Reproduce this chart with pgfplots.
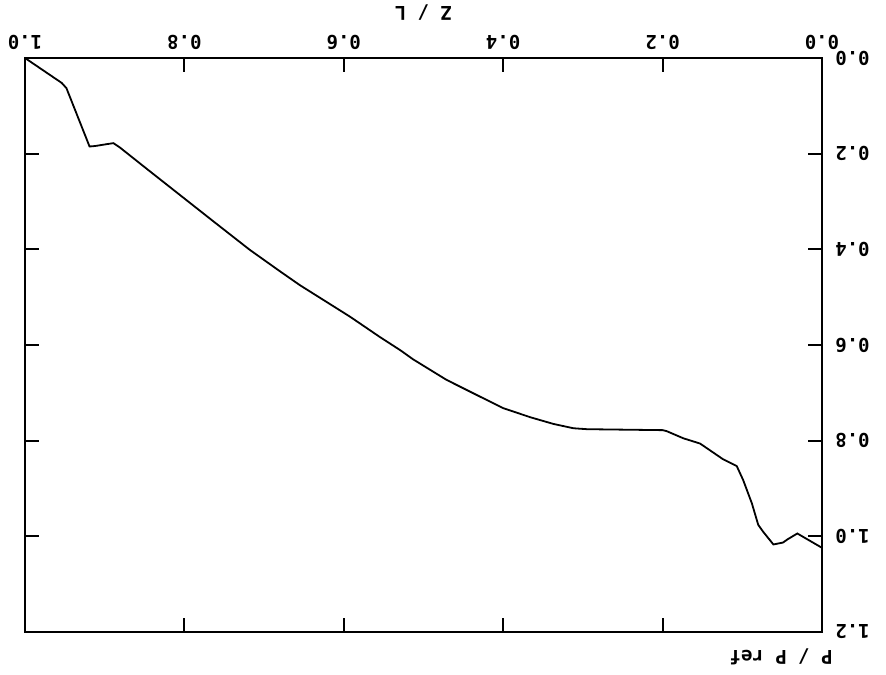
\documentclass[border=0pt]{standalone}
\usepackage{fontspec}
\setmainfont{DejaVu Sans Mono}
\usepackage{pgfplots}
\pgfplotsset{compat=1.18}

% the plot is shown turned upside down, so both axes run reversed
% and every text is turned by 180 degrees
\begin{document}
\begin{tikzpicture}
\useasboundingbox (-12.5pt,-21pt) rectangle (430.5pt,316pt);
\begin{axis}[
    at={(0,0)}, anchor=south west,
    scale only axis,
    width=398.5pt, height=287pt,
    xmin=0, xmax=1, ymin=0, ymax=1.2,
    x dir=reverse, y dir=reverse,
    xtick={0,0.2,...,1.0},
    ytick={0,0.2,...,1.2},
    tick align=inside,
    major tick length=7pt,
    tick style={black, line width=1pt},
    axis line style={black, line width=1.2pt},
    xticklabel pos=upper,
    yticklabel pos=right,
    xticklabel shift=4pt,
    yticklabel shift=6.5pt,
    tick label style={font=\fontsize{9.5}{11}\selectfont\bfseries, inner sep=0pt},
    xticklabel style={rotate=180, anchor=north},
    yticklabel style={rotate=180, anchor=east},
    /pgf/number format/assume math mode=true,
    /pgf/number format/.cd, fixed, fixed zerofill, precision=1,
    /pgfplots/.cd,
    xlabel={Z / L},
    xlabel style={at={(axis description cs:0.5,1)}, anchor=center,
        yshift=22.5pt, rotate=180, inner sep=0pt,
        font=\fontsize{9.5}{11}\selectfont\bfseries},
]
\addplot[black, line width=0.9pt] coordinates {
    (1.000,0.000) (0.954,0.052) (0.948,0.063) (0.919,0.185) (0.912,0.184)
    (0.897,0.180) (0.889,0.178) (0.881,0.187) (0.847,0.232) (0.764,0.341)
    (0.718,0.401) (0.680,0.446) (0.655,0.475) (0.592,0.541) (0.555,0.583)
    (0.529,0.611) (0.513,0.630) (0.471,0.673) (0.429,0.708) (0.400,0.732)
    (0.366,0.751) (0.337,0.765) (0.312,0.774) (0.295,0.776) (0.200,0.778)
    (0.195,0.780) (0.174,0.795) (0.153,0.806) (0.124,0.839) (0.107,0.853)
    (0.099,0.882) (0.088,0.931) (0.080,0.976) (0.074,0.990) (0.061,1.017)
    (0.049,1.013) (0.043,1.006) (0.031,0.994) (0.000,1.024)
};
\end{axis}
% y label, below the right end of the turned axis
\node[inner sep=0pt, font=\fontsize{9.5}{11}\selectfont\bfseries,
    anchor=north east] at (404pt,-8pt) {\rotatebox{180}{P / P ref}};
\end{tikzpicture}
\end{document}
